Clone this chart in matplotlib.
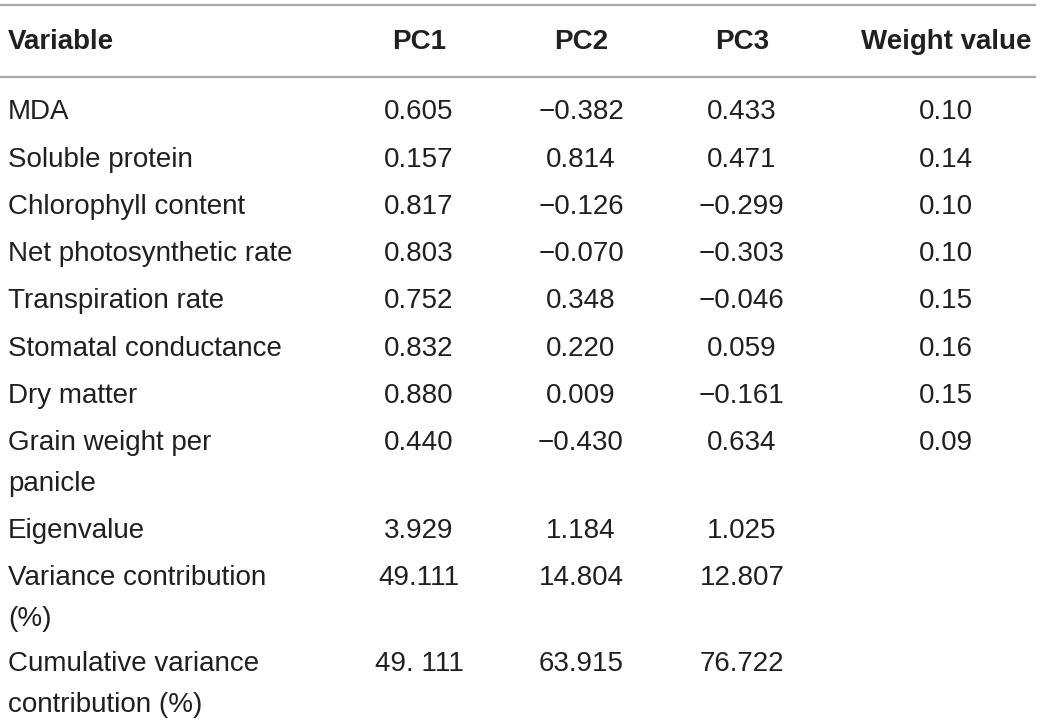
import matplotlib
matplotlib.use("Agg")
import matplotlib.pyplot as plt

# table content
HEADERS = ["Variable", "PC1", "PC2", "PC3", "Weight value"]
VARIABLES = ["MDA", "Soluble protein", "Chlorophyll content", "Net photosynthetic rate",
             "Transpiration rate", "Stomatal conductance", "Dry matter",
             "Grain weight per\npanicle", "Eigenvalue", "Variance contribution\n(%)",
             "Cumulative variance\ncontribution (%)"]
PC1 = ["0.605", "0.157", "0.817", "0.803", "0.752", "0.832", "0.880", "0.440",
       "3.929", "49.111", "49. 111"]
PC2 = ["\u22120.382", "0.814", "\u22120.126", "\u22120.070", "0.348", "0.220", "0.009",
       "\u22120.430", "1.184", "14.804", "63.915"]
PC3 = ["0.433", "0.471", "\u22120.299", "\u22120.303", "\u22120.046", "0.059", "\u22120.161",
       "0.634", "1.025", "12.807", "76.722"]
WEIGHTS = ["0.10", "0.14", "0.10", "0.10", "0.15", "0.16", "0.15", "0.09", "", "", ""]

W, H = 1040, 725
fig = plt.figure(figsize=(W / 100, H / 100), dpi=100)
plt.rcParams["font.family"] = ["Liberation Sans", "DejaVu Sans"]

TEXT = "#231f20"
LINE = "#a7a9ac"
FS = 20


def put(x, y, s, ha="center", bold=False):
    fig.text(x / W, 1 - y / H, s, ha=ha, va="center", fontsize=FS, color=TEXT,
             fontweight="bold" if bold else "normal")


# rules
for y in (5, 77):
    fig.add_artist(plt.Line2D([0, 1035 / W], [1 - y / H] * 2, color=LINE, lw=1.6))

col_x = [8, 419, 581, 742, 946]
put(col_x[0], 42, HEADERS[0], ha="left", bold=True)
for x, h in zip(col_x[1:], HEADERS[1:]):
    put(x, 42, h, bold=True)

row_y = [112, 160, 207, 254, 301, 349, 396, 443, 531, 578, 664]
for i, y in enumerate(row_y):
    for k, part in enumerate(VARIABLES[i].split("\n")):
        put(col_x[0], y + 41 * k, part, ha="left")
    for x, vals in zip(col_x[1:], (PC1, PC2, PC3, WEIGHTS)):
        put(x, y, vals[i])

fig.savefig("out.png", dpi=100)
